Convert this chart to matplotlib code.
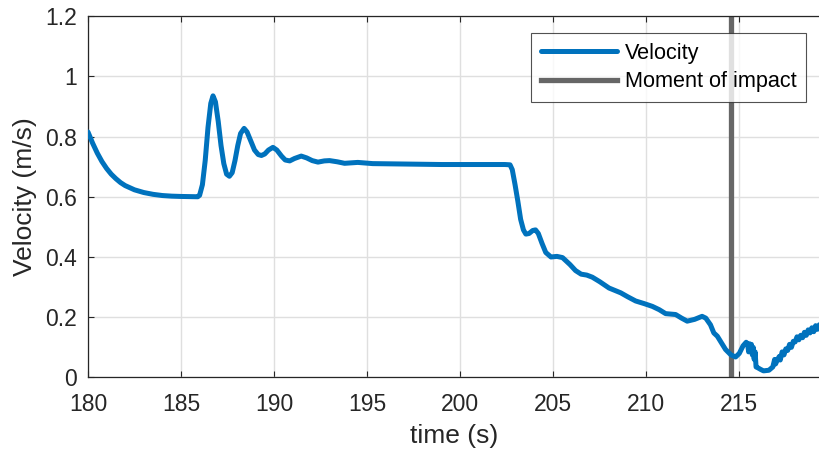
import numpy as np
import matplotlib.pyplot as plt

# velocity trace (s, m/s)
time_s = [180.0, 180.25, 180.5, 180.75, 181.0, 181.25, 181.5, 181.75, 182.0, 182.5,
          183.0, 183.5, 184.0, 184.5, 185.0, 185.9, 186.0, 186.15, 186.3, 186.45,
          186.6, 186.72, 186.85, 187.0, 187.15, 187.3, 187.45, 187.6, 187.75, 187.9,
          188.05, 188.2, 188.39, 188.55, 188.75, 188.95, 189.15, 189.32, 189.5, 189.7,
          189.94, 190.15, 190.4, 190.6, 190.84, 191.1, 191.46, 191.75, 192.05, 192.36,
          192.7, 192.98, 193.4, 193.79, 194.5, 195.3, 196.7, 199.0, 202.4, 202.68,
          202.8, 202.95, 203.1, 203.25, 203.4, 203.53, 203.7, 203.9, 204.05, 204.2,
          204.4, 204.6, 204.88, 205.2, 205.5, 205.9, 206.2, 206.5, 206.8, 207.1,
          207.5, 208.0, 208.63, 209.0, 209.43, 209.9, 210.33, 210.7, 211.04, 211.58,
          211.9, 212.2, 212.6, 213.0, 213.2, 213.45, 213.63, 213.82, 214.26, 214.55,
          214.8, 215.0, 215.2, 215.37, 215.45, 215.5, 215.55, 215.6, 215.65, 215.7,
          215.75, 215.8, 215.85, 215.9, 216.0, 216.14, 216.3, 216.59, 216.8, 216.9,
          216.95, 217.04, 217.15, 217.2, 217.3, 217.4, 217.5, 217.6, 217.7, 217.8,
          217.9, 218.0, 218.1, 218.2, 218.3, 218.4, 218.5, 218.6, 218.7, 218.8,
          218.9, 219.0, 219.1, 219.2, 219.3]
velocity = [0.815, 0.778, 0.745, 0.717, 0.694, 0.675, 0.660, 0.647, 0.637, 0.623,
            0.614, 0.608, 0.604, 0.602, 0.601, 0.600, 0.605, 0.640, 0.720, 0.830,
            0.910, 0.935, 0.915, 0.850, 0.770, 0.710, 0.675, 0.668, 0.680, 0.720,
            0.770, 0.810, 0.827, 0.815, 0.785, 0.755, 0.740, 0.737, 0.742, 0.755,
            0.764, 0.755, 0.735, 0.722, 0.719, 0.727, 0.735, 0.729, 0.720, 0.715,
            0.719, 0.720, 0.716, 0.711, 0.714, 0.710, 0.709, 0.707, 0.707, 0.706,
            0.690, 0.640, 0.585, 0.525, 0.490, 0.476, 0.478, 0.488, 0.490, 0.478,
            0.445, 0.415, 0.400, 0.402, 0.398, 0.375, 0.355, 0.343, 0.340, 0.333,
            0.318, 0.297, 0.281, 0.268, 0.254, 0.245, 0.236, 0.225, 0.212, 0.209,
            0.197, 0.187, 0.193, 0.203, 0.197, 0.175, 0.148, 0.137, 0.093, 0.075,
            0.068, 0.080, 0.105, 0.117, 0.110, 0.085, 0.112, 0.098, 0.110, 0.075,
            0.100, 0.060, 0.085, 0.035, 0.032, 0.027, 0.022, 0.024, 0.035, 0.060,
            0.045, 0.058, 0.070, 0.058, 0.085, 0.075, 0.095, 0.090, 0.110, 0.100,
            0.120, 0.118, 0.135, 0.125, 0.140, 0.132, 0.150, 0.140, 0.158, 0.148,
            0.165, 0.152, 0.172, 0.160, 0.175]

impact_time = 214.55

x_ticks = [180, 185, 190, 195, 200, 205, 210, 215]
y_ticks = [0, 0.2, 0.4, 0.6, 0.8, 1.0, 1.2]
y_tick_labels = ['0', '0.2', '0.4', '0.6', '0.8', '1', '1.2']

plt.rcParams['font.family'] = ['Liberation Sans', 'DejaVu Sans']
axis_col = '#262626'

fig = plt.figure(figsize=(8.19, 4.51), dpi=100)
ax = fig.add_axes([0.1074, 0.163, 0.893, 0.8015])

ax.plot(time_s, velocity, color='#0072BD', lw=3.6, label='Velocity',
        solid_joinstyle='round', solid_capstyle='round', zorder=3)
ax.axvline(impact_time, color='#666666', lw=3.8, label='Moment of impact', zorder=2)

ax.set_xlim(180, 219.3)
ax.set_ylim(0, 1.2)
ax.set_xticks(x_ticks)
ax.set_yticks(y_ticks)
ax.set_yticklabels(y_tick_labels)
ax.grid(True, color='#dfdfdf', lw=1.0)
ax.set_axisbelow(True)

ax.tick_params(direction='in', length=4, width=0.8, colors=axis_col,
               labelsize=16.5, top=True, right=False)
ax.tick_params(axis='x', pad=11)
ax.tick_params(axis='y', pad=8)
for side in ['left', 'bottom', 'top']:
    ax.spines[side].set_color(axis_col)
    ax.spines[side].set_linewidth(0.9)
ax.spines['right'].set_visible(False)

ax.set_xlabel('time (s)', fontsize=19, color=axis_col, labelpad=6)
ax.set_ylabel('Velocity (m/s)', fontsize=19, color=axis_col, labelpad=6)

leg = ax.legend(loc='upper right', bbox_to_anchor=(0.984, 0.927),
                bbox_transform=fig.transFigure, fontsize=15.6, frameon=True,
                fancybox=False, handlelength=3.5, handletextpad=0.35,
                borderpad=0.45, labelspacing=0.35, borderaxespad=0)
leg.get_frame().set_edgecolor(axis_col)
leg.get_frame().set_linewidth(0.8)
for txt in leg.get_texts():
    txt.set_color('black')

fig.savefig('out.png', dpi=100)
